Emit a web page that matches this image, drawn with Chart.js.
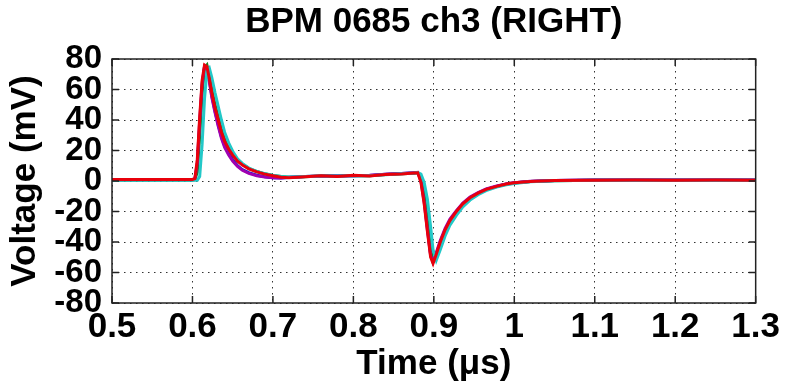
<!DOCTYPE html>
<html>
<head>
<meta charset="utf-8">
<script src="https://cdn.jsdelivr.net/npm/chart.js@4.4.1/dist/chart.umd.min.js"></script>
<style>
  html, body { margin: 0; padding: 0; background: #fff; }
  #wrap { width: 787px; height: 382px; }
</style>
</head>
<body>
<div id="wrap"><canvas id="bpm"></canvas></div>
<script>
// sample times (us), shared by every trace
var time = [0.50, 0.55, 0.60, 0.603, 0.606, 0.609, 0.612, 0.615, 0.618, 0.621,
            0.624, 0.628, 0.632, 0.636, 0.640, 0.645, 0.650, 0.656, 0.662, 0.670,
            0.680, 0.690, 0.700, 0.710, 0.720, 0.740, 0.760, 0.780, 0.800, 0.820,
            0.840, 0.860, 0.875, 0.880, 0.884, 0.888, 0.892, 0.896, 0.899, 0.903,
            0.908, 0.914, 0.920, 0.928, 0.936, 0.945, 0.955, 0.965, 0.978, 0.990,
            1.000, 1.020, 1.050, 1.100, 1.150, 1.200, 1.250, 1.300];

// voltage (mV) per pulse
var pulseRed = [1, 1, 1, 1.5, 14, 42, 66, 76, 75, 67,
                58, 48, 40, 32, 26, 21, 17, 13, 10.5, 8,
                6, 4.5, 3.5, 2.5, 2.2, 2.8, 3.4, 3.0, 3.8, 3.3,
                4.2, 4.6, 5.2, 5.4, -1, -15, -33, -50, -54, -48,
                -40, -32, -26, -20, -15, -11, -8, -5.5, -3.5, -2,
                -1.2, -0.3, 0.3, 0.5, 0.6, 0.5, 0.6, 0.5];
var pulseCyan = [0.5, 0.5, 0.5, 0.5, 0.5, 3, 24, 54, 72, 74,
                 68, 58, 49, 40, 32, 25, 19.5, 14.5, 11.5, 8.5,
                 6.3, 4.8, 3.8, 3, 2.6, 2.9, 3.2, 3.3, 3.6, 3.5,
                 4.1, 4.8, 5.3, 5.6, 4.5, -1, -12, -30, -45, -52,
                 -45, -36, -29, -22.5, -17, -12.5, -9, -6.3, -4, -2.5,
                 -1.6, -0.5, 0.2, 0.5, 0.5, 0.5, 0.5, 0.5];
var pulseBlue = [0.8, 0.8, 0.8, 1.2, 10, 36, 62, 75, 74, 66,
                 56, 46, 37, 29, 23, 18, 14, 10, 7.5, 5.5,
                 3.8, 2.8, 2.2, 2, 2.3, 3.0, 3.2, 3.4, 3.5, 3.6,
                 4.4, 4.9, 5.4, 5.6, 1, -12, -30, -48, -53, -48,
                 -40, -32, -26, -20, -15, -11, -8, -5.5, -3.5, -2,
                 -1.2, -0.3, 0.3, 0.6, 0.6, 0.6, 0.6, 0.6];
var pulseGreen = [0.7, 0.7, 0.7, 0.9, 6, 30, 58, 74, 76, 69,
                  60, 50, 42, 34, 27.5, 22, 17.5, 13.5, 11, 8.3,
                  6.2, 4.7, 3.6, 2.9, 2.5, 2.8, 3.3, 3.1, 3.6, 3.4,
                  4.3, 4.7, 5.1, 5.5, 2, -9, -26, -45, -53, -50,
                  -42, -34, -27.5, -21, -16, -11.5, -8.5, -5.8, -3.7, -2.2,
                  -1.3, -0.4, 0.2, 0.5, 0.5, 0.5, 0.5, 0.5];
var pulseMagenta = [1, 1, 1, 1.4, 12, 40, 64, 75, 74, 65,
                    55, 45, 36, 28, 22, 17, 13, 9.5, 7, 5,
                    3.5, 2.6, 2.1, 2, 2.4, 2.9, 3.1, 3.3, 3.4, 3.7,
                    4.5, 5, 5.4, 5.7, 0, -14, -32, -49, -53, -47,
                    -39, -31, -25, -19.5, -14.5, -10.5, -7.6, -5.2, -3.3, -1.9,
                    -1.1, -0.2, 0.4, 0.6, 0.6, 0.6, 0.6, 0.6];

var xTickLabels = ['0.5', '0.6', '0.7', '0.8', '0.9', '1', '1.1', '1.2', '1.3'];
var yTickLabels = ['-80', '-60', '-40', '-20', '0', '20', '40', '60', '80'];

var FONT = "'Liberation Sans', Arial, Helvetica, sans-serif";

function toPoints(values) {
    return values.map(function (v, i) { return { x: time[i], y: v }; });
}

function trace(color, values) {
    return {
        data: toPoints(values),
        borderColor: color,
        borderWidth: 3,
        pointRadius: 0,
        tension: 0,
        fill: false
    };
}

// axes frame with inward ticks on all four sides
var axesBox = {
    id: 'axesBox',
    afterDraw: function (chart) {
        var ctx = chart.ctx, a = chart.chartArea;
        var xs = chart.scales.x, ys = chart.scales.y;
        ctx.save();
        ctx.strokeStyle = '#222';
        ctx.lineWidth = 1.5;
        ctx.strokeRect(a.left, a.top, a.right - a.left, a.bottom - a.top);
        ctx.beginPath();
        xs.ticks.forEach(function (t) {
            var px = xs.getPixelForValue(t.value);
            ctx.moveTo(px, a.bottom); ctx.lineTo(px, a.bottom - 7);
            ctx.moveTo(px, a.top); ctx.lineTo(px, a.top + 7);
        });
        ys.ticks.forEach(function (t) {
            var py = ys.getPixelForValue(t.value);
            ctx.moveTo(a.left, py); ctx.lineTo(a.left + 7, py);
            ctx.moveTo(a.right, py); ctx.lineTo(a.right - 7, py);
        });
        ctx.stroke();
        ctx.restore();
    }
};

var dotted = { color: '#333', lineWidth: 1, drawTicks: false };

var ctx = document.getElementById('bpm').getContext('2d');
var bpmChart = new Chart(ctx, {
    type: 'line',
    data: {
        // first dataset is drawn on top
        datasets: [
            trace('#e8000b', pulseRed),
            trace('#22c8c8', pulseCyan),
            trace('#a000b0', pulseMagenta),
            trace('#1f7a1f', pulseGreen),
            trace('#2020c8', pulseBlue)
        ]
    },
    options: {
        responsive: true,
        maintainAspectRatio: false,
        animation: false,
        layout: { padding: { left: 0, right: 30, top: 0, bottom: 0 } },
        scales: {
            x: {
                type: 'linear',
                min: 0.5,
                max: 1.3,
                afterFit: function (scale) { scale.height = 79; },
                ticks: {
                    stepSize: 0.1,
                    autoSkip: false,
                    padding: 7,
                    color: '#000',
                    font: { family: FONT, size: 35, weight: 'bold', lineHeight: 1.0 },
                    maxRotation: 0,
                    callback: function (v, i) { return xTickLabels[i]; }
                },
                grid: dotted,
                border: { display: false, dash: [1.5, 4.5] },
                title: {
                    display: true,
                    text: 'Time (\u03bcs)',
                    color: '#000',
                    padding: { top: 0, bottom: 0 },
                    font: { family: FONT, size: 35, weight: 'bold', lineHeight: 1.0 }
                }
            },
            y: {
                min: -80,
                max: 80,
                afterFit: function (scale) { scale.width = 112; },
                ticks: {
                    stepSize: 20,
                    autoSkip: false,
                    padding: 10,
                    color: '#000',
                    font: { family: FONT, size: 33, weight: 'bold', lineHeight: 1.0 },
                    callback: function (v, i) { return yTickLabels[i]; }
                },
                grid: dotted,
                border: { display: false, dash: [1.5, 4.5] },
                title: {
                    display: true,
                    text: 'Voltage (mV)',
                    color: '#000',
                    padding: { top: 8, bottom: 0 },
                    font: { family: FONT, size: 35, weight: 'bold', lineHeight: 1.0 }
                }
            }
        },
        plugins: {
            legend: { display: false },
            tooltip: { enabled: false },
            title: {
                display: true,
                fullSize: false,
                text: 'BPM 0685 ch3 (RIGHT)',
                color: '#000',
                padding: { top: 1, bottom: 16 },
                font: { family: FONT, size: 35, weight: 'bold', lineHeight: 1.2 }
            }
        }
    },
    plugins: [axesBox]
});
</script>
</body>
</html>
